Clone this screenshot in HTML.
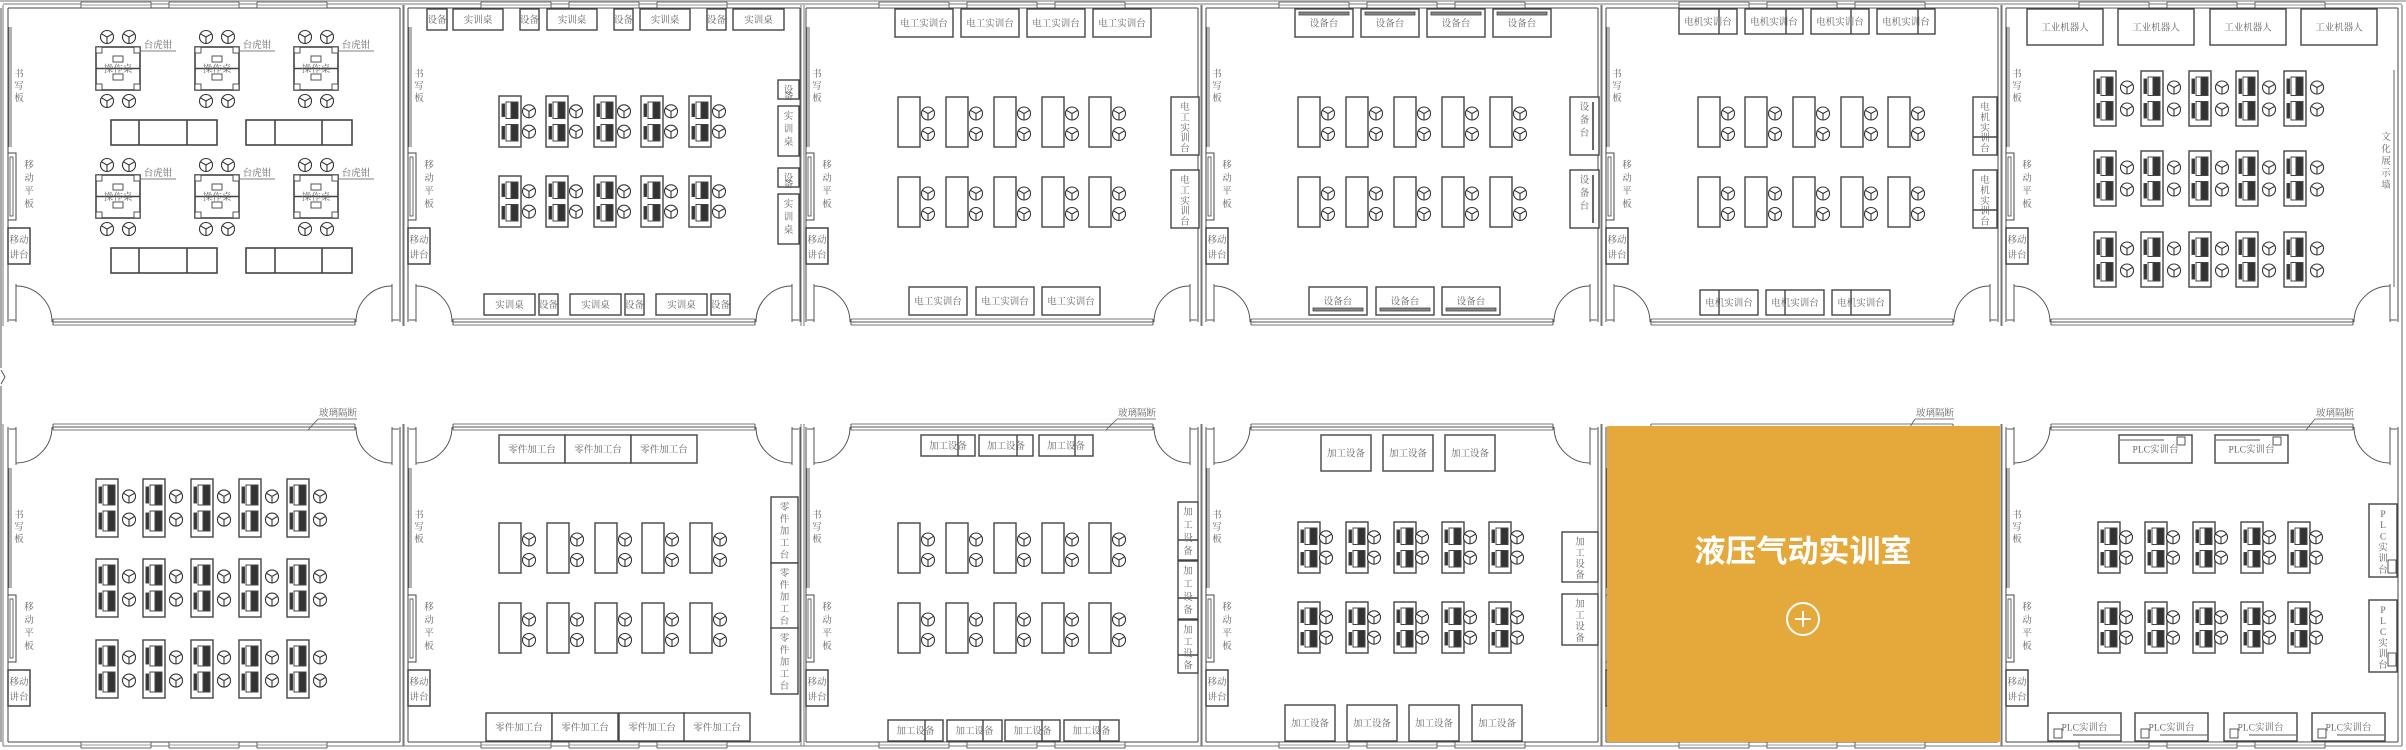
<!DOCTYPE html>
<html><head><meta charset="utf-8"><style>
html,body{margin:0;padding:0;background:#fff;width:2406px;height:750px;overflow:hidden}
svg text{font-family:"Liberation Serif","Noto Serif CJK SC",serif;fill:#666;font-size:9.5px}
</style></head><body>
<svg id="s" width="2406" height="750" viewBox="0 0 2406 750" xmlns="http://www.w3.org/2000/svg">
<defs>
<symbol id="ch" viewBox="-8 -8 16 16" overflow="visible">
<circle cx="0" cy="0" r="6.5" fill="#fff" stroke="#333" stroke-width="1.1"/>
<path d="M0 0V6.5M0 0L-5.6 -3.2M0 0L5.6 -3.2" stroke="#333" stroke-width="1.1"/>
</symbol>
</defs>
<rect x="0" y="0" width="2406" height="2" fill="#bbb"/>
<g id="g" fill="none" stroke="#444" stroke-width="1"></g>
<g id="t"></g>
<rect x="1607" y="426" width="393" height="316" fill="#E5A83B"/>
<text x="1803" y="562" text-anchor="middle" style="font-family:'Liberation Sans','Noto Sans CJK SC',sans-serif;font-size:31px;font-weight:bold;fill:#fff">液压气动实训室</text>
<circle cx="1803" cy="619" r="16" fill="none" stroke="#fff" stroke-width="2"/>
<path d="M1795 619H1811M1803 611V627" stroke="#fff" stroke-width="2"/>
</svg>
<script>
const NS="http://www.w3.org/2000/svg",G=document.getElementById('g'),TT=document.getElementById('t');
function el(p,n,a){const e=document.createElementNS(NS,n);for(const k in a)e.setAttribute(k,a[k]);p.appendChild(e);return e}
function L(x1,y1,x2,y2,c,w){el(G,'line',{x1,y1,x2,y2,stroke:c||'#555','stroke-width':w||1})}
function R(x,y,w,h,sw,f){el(G,'rect',{x,y,width:w,height:h,fill:f||'#fff',stroke:'#444','stroke-width':sw||1.4})}
function T(x,y,s,sz){const e=el(TT,'text',{x,y,'text-anchor':'middle'});if(sz)e.style.fontSize=sz+'px';e.textContent=s}
function VT(x,y,s,step){for(let i=0;i<s.length;i++)T(x,y+i*(step||12),s[i])}
function chair(x,y){el(G,'use',{href:'#ch',x:x-8,y:y-8,width:16,height:16})}
function box(x,y,w,h,s,div){R(x,y,w,h);if(div)L(div,y,div,y+h,'#444',1.4);T(x+w/2,y+h/2+3.5,s)}
function vbox(x,y,w,h,s,div){R(x,y,w,h);if(div)L(x,div,x+w,div,'#444',1.4);VT(x+w/2,y+13,s,Math.min(13,(h-6)/s.length))}
function deskA(x,y,h,cx){R(x,y,22,h);const uh=h/2-9;for(const uy of [y+6,y+h/2+3]){el(G,'rect',{x:x+3,y:uy+2,width:2.5,height:uh-4,fill:'#333'});el(G,'rect',{x:x+7,y:uy,width:5,height:uh,fill:'#fff',stroke:'#444'});el(G,'rect',{x:x+12,y:uy,width:7,height:uh,fill:'#333'})}
 chair(x+cx,y+h*0.3);chair(x+cx,y+h*0.7)}
function deskB(x,y,h){R(x,y,22,h);chair(x+30,y+h*0.33);chair(x+30,y+h*0.74)}
function shell(Lx,top){
 const Rx=Lx+392,Tp=top?8:427,B=top?322:742;
 L(Lx,Tp,Lx,B,'#444');L(Lx-5,Tp-3,Lx-5,B+4,'#777');L(Rx,Tp,Rx,B,'#444');L(Rx+4,Tp-3,Rx+4,B+4,'#777');
 const far=top?Tp:B,fo=top?-1:1;
 L(Lx,far,Rx,far,'#444');L(Lx-5,far+fo*4,Rx+4,far+fo*4,'#777');
 for(const wx of [73,161,249]){R(Lx+wx,far+(top?-6:0),70,6,0.8);L(Lx+wx,far+fo*3,Lx+wx+70,far+fo*3,'#777',0.8)}
 const yd=top?B:Tp,d=top?-1:1;
 // glass partition
 L(Lx+45,yd,Rx-45,yd,'#555');L(Lx+45,yd+d*-3,Rx-45,yd+d*-3,'#777');L(Lx+45,yd+d*3,Rx-45,yd+d*3,'#777');
 L(Lx+45,yd-3,Lx+45,yd+3);L(Rx-45,yd-3,Rx-45,yd+3);
 // jambs
 L(Lx+8,yd,Lx+8,yd+d*38,'#555');L(Lx+1,yd+d*2,Lx+8,yd+d*2,'#555');
 L(Rx-8,yd,Rx-8,yd+d*38,'#555');L(Rx-1,yd+d*2,Rx-8,yd+d*2,'#555');
 el(G,'path',{d:`M${Lx+8} ${yd+d*36}A36 36 0 0 ${top?1:0} ${Lx+44} ${yd}`,stroke:'#555'});
 el(G,'path',{d:`M${Rx-8} ${yd+d*36}A36 36 0 0 ${top?0:1} ${Rx-44} ${yd}`,stroke:'#555'});
 // left furniture
 const wb=top?[27,147]:[468,588],mp=top?153:595,pd=top?228:670;
 L(Lx+1,wb[0],Lx+1,wb[1],'#666');L(Lx+3,wb[0],Lx+3,wb[1],'#666');VT(Lx+11,(wb[0]+wb[1])/2-10,'书写板',12);
 R(Lx,mp,8,67,1);R(Lx+2,mp+4,3,59,0.8);VT(Lx+21,mp+15,'移动平板',13);
 R(Lx,pd,22,36,1.5);T(Lx+11,pd+15,'移动');T(Lx+11,pd+30,'讲台');
}
// left outer edge
L(1,8,1,368,'#555');L(1,386,1,742,'#555');el(G,'path',{d:'M1 370L5 377L1 384',stroke:'#555'});
[8,408,806,1206,1606,2006].forEach(x=>{shell(x,true);shell(x,false)});
L(2402,5,2402,745,'#666');

// Room1
for(const gy of [47,175])for(const gx of [96,195,294]){
 R(gx,gy,44,43,1.6);L(gx,gy+21.5,gx+44,gy+21.5,'#444',1.4);
 for(const [a,b] of [[gx,gy],[gx+38,gy],[gx,gy+37],[gx+38,gy+37]])R(a,b,6,6,0.9);
 R(gx+17,gy+9,10,6,0.9);R(gx+17,gy+27,10,6,0.9);T(gx+22,gy+25,'操作桌');
 chair(gx+11,gy-10);chair(gx+33,gy-10);chair(gx+11,gy+54);chair(gx+33,gy+54);
 L(gx+44,gy+4,gx+80,gy+4,'#555',0.8);T(gx+62,gy+1,'台虎钳');
}
for(const ty of [120,248])for(const [a,b,c,d] of [[111,139,187,217],[246,275,322,352]]){R(a,ty,d-a,25,1.6);L(b,ty,b,ty+25,'#444',1.6);L(c,ty,c,ty+25,'#444',1.6)}

// Room2
[[427,20,'设备'],[453,50,'实训桌'],[520,19,'设备'],[547,50,'实训桌'],[614,19,'设备'],[640,50,'实训桌'],[707,19,'设备'],[733,51,'实训桌']].forEach(([x,w,s])=>box(x,9,w,21,s));
[[484,51,'实训桌'],[539,19,'设备'],[570,51,'实训桌'],[625,19,'设备'],[656,51,'实训桌'],[711,19,'设备']].forEach(([x,w,s])=>box(x,294,w,21,s));
vbox(778,80,21,19,'设备');vbox(778,106,21,50,'实训桌');vbox(778,168,21,19,'设备');vbox(778,194,21,50,'实训桌');
for(const y of [96,176])for(const x of [499,546,594,641,689])deskA(x,y,51,30);

// Room3
[895,961,1027,1093].forEach(x=>box(x,9,58,28,'电工实训台'));
[909,976,1042].forEach(x=>box(x,287,58,28,'电工实训台'));
vbox(1171,97,28,58,'电工实训台');vbox(1171,170,28,58,'电工实训台');
for(const y of [97,177])for(const x of [898,946,994,1042,1089])deskB(x,y,50);

// Room4
[1295,1361,1427,1493].forEach(x=>{box(x,9,58,28,'设备台');R(x+4,12,50,3,0.8,'#888')});
[1309,1376,1442].forEach(x=>{box(x,287,58,28,'设备台');R(x+4,308,50,3,0.8,'#888')});
vbox(1570,97,29,58,'设备台');L(1593,102,1593,150,'#666',2);vbox(1570,170,29,58,'设备台');L(1593,175,1593,223,'#666',2);
for(const y of [97,177])for(const x of [1298,1346,1394,1442,1490])deskB(x,y,50);

// Room5
[[1679,1719],[1745,1786],[1811,1851],[1877,1918]].forEach(([x,d])=>box(x,9,58,25,'电机实训台',d));
[[1700,1719],[1766,1785],[1832,1851]].forEach(([x,d])=>box(x,290,58,25,'电机实训台',d));
vbox(1973,97,24,58,'电机实训台',137);vbox(1973,170,24,58,'电机实训台',210);
for(const y of [97,177])for(const x of [1698,1745,1793,1841,1888])deskB(x,y,50);

// Room6
[2027,2118,2210,2301].forEach(x=>box(x,9,76,36,'工业机器人'));
L(2394,70,2394,287,'#666');VT(2386,140,'文化展示墙',12);
for(const y of [71,151,232])for(const x of [2094,2141,2189,2236,2284])deskA(x,y,55,33);

// Room7
T(338,416,'玻璃隔断');L(318,419,357,419,'#555',0.8);L(318,419,308,430,'#555',0.8);
for(const y of [479,559,640])for(const x of [96,143,191,239,287])deskA(x,y,58,33);

// Room8
[499,565,631].forEach(x=>box(x,435,66,28,'零件加工台'));
[486,552,619,684].forEach(x=>box(x,713,66,28,'零件加工台'));
[497,563,628].forEach(y=>vbox(771,y,27,66,'零件加工台'));
for(const y of [523,603])for(const x of [499,547,595,642,690])deskB(x,y,50);

// Room9
T(1137,416,'玻璃隔断');L(1117,419,1156,419,'#555',0.8);L(1117,419,1106,430,'#555',0.8);
[[921,958],[979,1017],[1039,1075]].forEach(([x,d])=>box(x,435,54,21,'加工设备',d));
[[888,925],[947,983],[1005,1042],[1064,1100]].forEach(([x,d])=>box(x,720,55,21,'加工设备',d));
[[502,540],[561,598],[620,655]].forEach(([y,d])=>vbox(1178,y,20,(y==620?53:58),'加工设备',d));
for(const y of [523,603])for(const x of [898,946,994,1042,1089])deskB(x,y,50);

// Room10
[1321,1383,1445].forEach(x=>box(x,435,50,36,'加工设备'));
[1285,1347,1409,1472].forEach(x=>box(x,705,50,36,'加工设备'));
vbox(1562,532,36,50,'加工设备');vbox(1562,594,36,51,'加工设备');
for(const y of [522,602])for(const x of [1298,1346,1394,1442,1489])deskA(x,y,51,28);

// Room11 orange: label
T(1935,416,'玻璃隔断');L(1915,419,1954,419,'#555',0.8);L(1915,419,1908,430,'#555',0.8);

// Room12
T(2335,416,'玻璃隔断');L(2315,419,2354,419,'#555',0.8);L(2315,419,2306,430,'#555',0.8);
[2119,2215].forEach(x=>{box(x,435,73,28,'PLC实训台');L(x+1,440,x+45,440,'#555');R(x+58,437,8,8,0.9)});
[2048,2135,2224,2312].forEach(x=>{box(x,713,73,28,'PLC实训台');L(x+25,735,x+72,735,'#555');R(x+6,729,8,9,0.9)});
vbox(2369,504,28,73,'PLC实训台');R(2388,560,8,13,0.9);vbox(2369,600,28,72,'PLC实训台');R(2388,653,8,13,0.9);
for(const y of [522,602])for(const x of [2098,2145,2193,2241,2288])deskA(x,y,51,28);
// bring orange on top
const s=document.getElementById('s');['rect','text','circle','path'].length;
const kids=[...s.children].slice(-4);kids.forEach(k=>s.appendChild(k));
</script>
</body></html>
